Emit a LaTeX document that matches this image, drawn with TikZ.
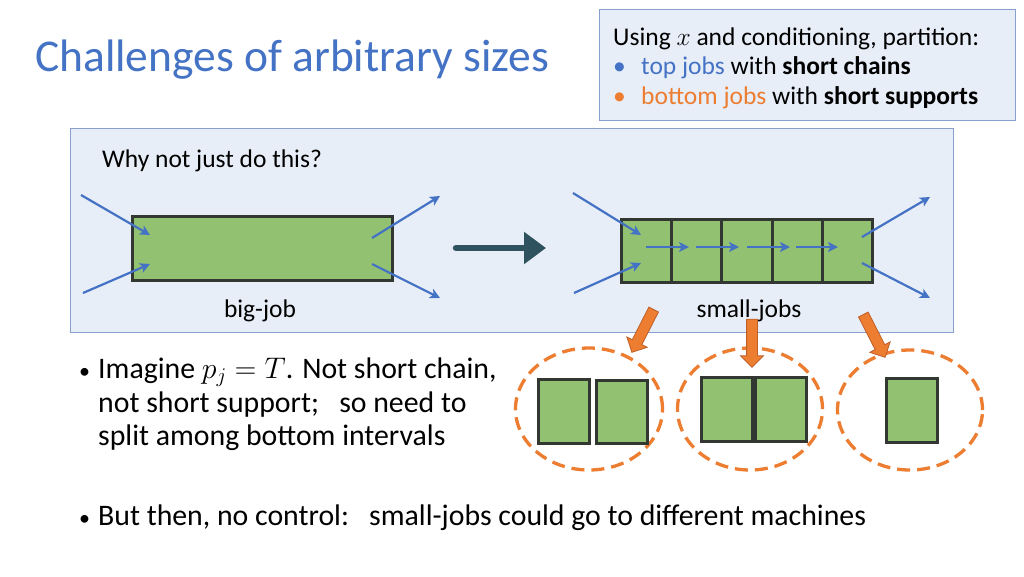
\documentclass[tikz,border=0pt]{standalone}
\usepackage{fix-cm}
\usepackage{fontspec}
\setmainfont{Carlito}
\usetikzlibrary{arrows.meta,shapes.geometric,shapes.arrows}
\definecolor{tblue}{RGB}{68,114,196}
\definecolor{torange}{RGB}{237,125,49}
\definecolor{dorange}{RGB}{190,95,40}
\definecolor{panelfill}{RGB}{232,238,248}
\definecolor{panelline}{RGB}{135,160,205}
\definecolor{jobgreen}{RGB}{147,193,114}
\definecolor{jobline}{RGB}{50,55,50}
\definecolor{slate}{RGB}{46,82,94}
\tikzset{
  panel/.style={draw=panelline, fill=panelfill, line width=1.2pt, inner sep=0pt},
  job/.style={draw=jobline, fill=jobgreen, line width=2.6pt, inner sep=0pt},
  barrow/.style={draw=tblue, line width=2.2pt, -{Stealth[length=10pt,width=10pt,inset=2.5pt]}},
  oarrow/.style={single arrow, draw=dorange, fill=torange, line width=0.8pt, inner sep=5pt,
     single arrow head extend=6pt, minimum height=48pt},
  group/.style={ellipse, draw=torange, line width=3.3pt, dash pattern=on 13pt off 7pt, inner sep=0pt},
  txt/.style={inner sep=0pt, anchor=base west},
  ctxt/.style={inner sep=0pt, anchor=base},
  small/.style={font=\fontsize{25.5}{30}\selectfont},
  big/.style={font=\fontsize{29.8}{34}\selectfont},
}
\begin{document}
\begin{tikzpicture}[x=1pt,y=-1pt]
\useasboundingbox (0,0) rectangle (1024,576);
\fill[white] (0,0) rectangle (1024,576);

% title
\node[txt, text=tblue, font=\fontsize{45.5}{52}\selectfont] (title) at (35,71) {Challenges of arbitrary sizes};

% top-right box
\node[panel, anchor=north west, minimum width=416pt, minimum height=111pt] (infobox) at (599,9) {};
\node[txt, small] (info1) at (613,45) {Using $x$ and conditioning, partition:};
\node[txt, text=tblue, small] (b1) at (613,74) {\textbullet};
\node[txt, small] (info2) at (641,74) {\textcolor{tblue}{top jobs} with \textbf{short chains}};
\node[txt, text=torange, small] (b2) at (613,104) {\textbullet};
\node[txt, small] (info3) at (641,104) {\textcolor{torange}{bottom jobs} with \textbf{short supports}};

% main panel
\node[panel, anchor=north west, minimum width=883pt, minimum height=204pt] (mainpanel) at (70,128) {};
\node[txt, small] (why) at (102,167) {Why not just do this?};

% big job
\node[job, anchor=north west, minimum width=260pt, minimum height=64pt] (big) at (131,215) {};
\node[ctxt, small] (biglabel) at (260,317) {big-job};
\coordinate (bi1s) at (81,195); \coordinate (bi1e) at (150,235);
\coordinate (bi2s) at (83,293); \coordinate (bi2e) at (150,264);
\coordinate (bo1s) at (372,238); \coordinate (bo1e) at (440,196);
\coordinate (bo2s) at (372,264); \coordinate (bo2e) at (440,298);
\draw[barrow] (bi1s) -- (bi1e);
\draw[barrow] (bi2s) -- (bi2e);
\draw[barrow] (bo1s) -- (bo1e);
\draw[barrow] (bo2s) -- (bo2e);

% transform arrow
\coordinate (ts) at (456,248); \coordinate (te) at (546,248);
\draw[slate, line width=6.5pt, line cap=round, -{Triangle[length=22pt,width=31pt]}] (ts) -- (te);

% small jobs
\foreach \i/\x in {1/620,2/670,3/720.5,4/771,5/821}{
  \node[job, anchor=north west, minimum width=50pt, minimum height=63pt] (s\i) at (\x,218) {};
}
\node[ctxt, small] (smalllabel) at (749,317) {small-jobs};
\foreach \a/\b in {646/689,696/739,747/790,796/838}{
  \draw[barrow] (\a,247) -- (\b,247);
}
\coordinate (si1s) at (573,193); \coordinate (si1e) at (641,235);
\coordinate (si2s) at (574,293); \coordinate (si2e) at (641,263);
\coordinate (so1s) at (862,237); \coordinate (so1e) at (930,197);
\coordinate (so2s) at (862,263); \coordinate (so2e) at (930,298);
\draw[barrow] (si1s) -- (si1e);
\draw[barrow] (si2s) -- (si2e);
\draw[barrow] (so1s) -- (so1e);
\draw[barrow] (so2s) -- (so2e);

% groups
\node[group, minimum width=147pt, minimum height=122pt] (g1) at (589,409) {};
\node[group, minimum width=145pt, minimum height=122pt] (g2) at (750,409) {};
\node[group, minimum width=145pt, minimum height=120pt] (g3) at (910,410) {};
\node[job, anchor=north west, minimum width=51pt, minimum height=64pt] (g1a) at (537,378) {};
\node[job, anchor=north west, minimum width=51pt, minimum height=63pt] (g1b) at (595,379) {};
\node[job, anchor=north west, minimum width=51pt, minimum height=64pt] (g2a) at (700,376) {};
\node[job, anchor=north west, minimum width=51pt, minimum height=64pt] (g2b) at (754,376) {};
\node[job, anchor=north west, minimum width=51pt, minimum height=64pt] (g3a) at (885,377) {};

% orange arrows
\node[oarrow, rotate=-117] (o1) at (644,328.5) {};
\node[oarrow, rotate=-90] (o2) at (752,340.5) {};
\node[oarrow, rotate=-63] (o3) at (873,333.5) {};

% bullets
\node[txt, font=\fontsize{22}{30}\selectfont] (d1) at (79,378) {\textbullet};
\node[txt, big] (l1) at (98,378) {Imagine $p_j = T$. Not short chain,};
\node[txt, big] (l2) at (98,412) {not short support;\ \ \ so need to};
\node[txt, big] (l3) at (98,445) {split among bottom intervals};
\node[txt, font=\fontsize{22}{30}\selectfont] (d2) at (79,525) {\textbullet};
\node[txt, big] (l4) at (98,525) {But then, no control:\ \ \ small-jobs could go to different machines};
\end{tikzpicture}
\end{document}
